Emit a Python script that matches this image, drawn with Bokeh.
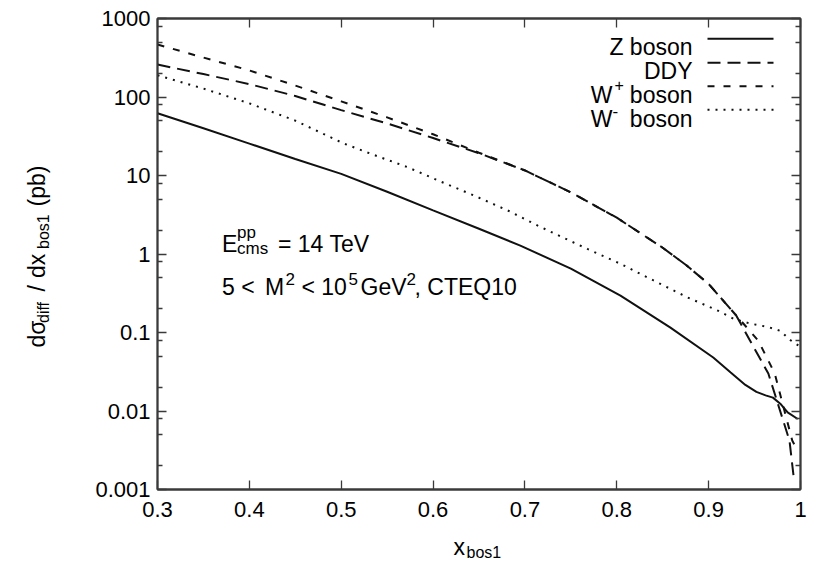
from bokeh.plotting import figure
from bokeh.layouts import row, column
from bokeh.models import (Range1d, FixedTicker, LogAxis, LinearAxis, Label,
                          Arrow, PrintfTickFormatter)
from bokeh.embed import file_html
from bokeh.resources import INLINE

# ---------------- data ----------------
x_ticks = [0.3, 0.4, 0.5, 0.6, 0.7, 0.8, 0.9, 1]
y_ticks = [0.001, 0.01, 0.1, 1, 10, 100, 1000]
y_minor = [0.002, 0.005, 0.008, 0.02, 0.05, 0.08, 0.2, 0.5, 0.8,
           2, 5, 8, 20, 50, 80, 200, 500, 800]

z_x = [0.30, 0.35, 0.40, 0.45, 0.50, 0.55, 0.60, 0.65, 0.695, 0.75, 0.804,
       0.858, 0.905, 0.924, 0.94, 0.952, 0.962, 0.970, 0.978, 0.986, 0.997]
z_y = [62, 40, 25.5, 16.2, 10.5, 6.2, 3.6, 2.1, 1.28, 0.65, 0.295,
       0.116, 0.048, 0.031, 0.0215, 0.0175, 0.0158, 0.0148, 0.0124, 0.0096, 0.0079]

ddy_x = [0.30, 0.35, 0.40, 0.45, 0.50, 0.55, 0.60, 0.65, 0.70, 0.75, 0.80,
         0.85, 0.875, 0.90, 0.93, 0.945, 0.965, 0.988, 0.993]
ddy_y = [259, 196, 146, 103, 68, 46, 30, 19.2, 11.6, 6.1, 2.9,
         1.2, 0.73, 0.415, 0.165, 0.079, 0.03, 0.0042, 0.0013]

wp_x = [0.30, 0.35, 0.40, 0.45, 0.50, 0.55, 0.60, 0.65, 0.70, 0.75, 0.80,
        0.85, 0.875, 0.90, 0.93, 0.954, 0.972, 0.991, 0.997]
wp_y = [466, 318, 218, 140, 88, 55, 33.5, 19.5, 11.6, 6.1, 2.9,
        1.2, 0.73, 0.415, 0.165, 0.079, 0.03, 0.0042, 0.0031]

wm_x = [0.30, 0.35, 0.40, 0.45, 0.503, 0.535, 0.572, 0.608, 0.644, 0.681, 0.714,
        0.731, 0.768, 0.804, 0.840, 0.877, 0.910, 0.927, 0.945, 0.964, 0.978,
        0.989, 0.998]
wm_y = [189, 128, 83, 50, 25.5, 18.4, 12.8, 8.4, 5.6, 3.6, 2.3,
        1.85, 1.16, 0.75, 0.46, 0.28, 0.19, 0.15, 0.13, 0.118, 0.105,
        0.08, 0.068]

series_names = ["Z boson", "DDY", "W", "W"]

# ---------------- styling constants ----------------
FONT = "Liberation Sans"
INK = "#111111"
AX = "#3a3a3a"

# page layout: left strip (y title) | main plot over bottom strip (x title)
LEFT_W = 80
MAIN_W, MAIN_H = 728, 534
BOT_H = 27
TOTAL_H = MAIN_H + BOT_H
FL, FB = 157, 489          # frame left / bottom, page pixels

p = figure(width=MAIN_W, height=MAIN_H, output_backend="svg",
           toolbar_location=None,
           x_range=Range1d(0.3, 1.0), y_range=Range1d(0.001, 1000),
           y_axis_type="log",
           min_border_left=FL - LEFT_W, min_border_right=8,
           min_border_top=18, min_border_bottom=MAIN_H - FB)
p.grid.visible = False
p.background_fill_color = "white"
p.border_fill_color = "white"
p.outline_line_color = AX
p.outline_line_width = 1.8


def style_axis(ax, show_labels=True):
    ax.axis_line_color = AX
    ax.axis_line_width = 1.8
    ax.major_tick_line_color = AX
    ax.minor_tick_line_color = AX
    ax.major_tick_line_width = 1.3
    ax.minor_tick_line_width = 1.3
    ax.major_tick_in = 9
    ax.major_tick_out = 0
    ax.minor_tick_in = 5
    ax.minor_tick_out = 0
    ax.formatter = PrintfTickFormatter(format="%g")
    if show_labels:
        ax.major_label_text_font = FONT
        ax.major_label_text_font_size = "22px"
        ax.major_label_text_color = "#000000"
    else:
        ax.major_label_text_font_size = "1px"
        ax.major_label_text_color = None
        ax.major_label_standoff = 0


p.xaxis.ticker = FixedTicker(ticks=x_ticks, minor_ticks=[])
p.yaxis.ticker = FixedTicker(ticks=y_ticks, minor_ticks=y_minor)
style_axis(p.xaxis[0])
style_axis(p.yaxis[0])
p.xaxis.major_label_standoff = 12
p.yaxis.major_label_standoff = 7

top = LinearAxis(ticker=FixedTicker(ticks=x_ticks, minor_ticks=[]))
style_axis(top, False)
p.add_layout(top, "above")
right = LogAxis(ticker=FixedTicker(ticks=y_ticks, minor_ticks=y_minor))
style_axis(right, False)
p.add_layout(right, "right")

# ---------------- curves ----------------
p.line(z_x, z_y, line_color=INK, line_width=2)
p.line(ddy_x, ddy_y, line_color=INK, line_width=2, line_dash="13 7")
p.line(wp_x, wp_y, line_color=INK, line_width=2, line_dash="7 9")
p.line(wm_x, wm_y, line_color=INK, line_width=2, line_dash="2 6")


# ---------------- text helpers (page px -> frame screen units) ----------------
def lab(fig, ox, oy, text, px, py, size, align="left", angle=0):
    fig.add_layout(Label(x=px - ox, y=oy - py, x_units="screen", y_units="screen",
                         text=text, text_font=FONT, text_font_size=f"{size}px",
                         text_color="#000000", text_align=align,
                         text_baseline="alphabetic", angle=angle,
                         angle_units="deg"))


def mlab(text, px, py, size, align="left"):
    lab(p, FL, FB, text, px, py, size, align)


def seg(px0, px1, py, dash):
    p.add_layout(Arrow(start=None, end=None,
                       x_start=px0 - FL, y_start=FB - py,
                       x_end=px1 - FL, y_end=FB - py,
                       start_units="screen", end_units="screen",
                       line_color=INK, line_width=2, line_dash=dash))


# legend (text on the left, line sample on the right)
mlab(series_names[0], 692, 46.7, 23, "right")
seg(707, 773, 38.3, "solid")
mlab(series_names[1], 692, 70.5, 23, "right")
seg(707, 773, 62.3, "13 7")
mlab("boson", 692, 94.3, 23, "right")
mlab("+", 614, 84.5, 16)
mlab(series_names[2], 612, 94.3, 23, "right")
seg(707, 773, 85.7, "7 9")
mlab("boson", 692, 118.1, 23, "right")
mlab("-", 612, 110.5, 17)
mlab(series_names[3], 612, 118.1, 23, "right")
seg(707, 773, 109.3, "2 6")

# annotation
mlab("E", 221.5, 243.5, 23)
mlab("pp", 236.5, 231.5, 17)
mlab("cms", 236.5, 248.3, 17)
mlab("= 14 TeV", 277.5, 243.5, 23)
mlab("5 <", 221.5, 286.7, 23)
mlab("M", 264.5, 286.7, 23)
mlab("2", 285, 278, 17)
mlab("< 10", 301, 286.7, 23)
mlab("5", 348, 278, 17)
mlab("GeV", 360, 286.7, 23)
mlab("2", 406, 278, 17)
mlab(", CTEQ10", 414, 286.7, 23)


def strip(w, h):
    f = figure(width=w, height=h, output_backend="svg", toolbar_location=None,
               x_range=Range1d(0, 1), y_range=Range1d(0, 1),
               x_axis_location=None, y_axis_location=None,
               min_border=0)
    f.grid.visible = False
    f.outline_line_color = None
    f.background_fill_color = "white"
    f.border_fill_color = "white"
    return f


# y-axis title (rotated), left strip at page x 0
left = strip(LEFT_W, TOTAL_H)
lab(left, 0, TOTAL_H, "d\u03c3", 36.7, 347, 23, angle=90)
lab(left, 0, TOTAL_H, "diff", 43, 322.5, 16, angle=90)
lab(left, 0, TOTAL_H, "/", 36.7, 291, 23, angle=90)
lab(left, 0, TOTAL_H, "dx", 36.7, 277.5, 23, angle=90)
lab(left, 0, TOTAL_H, "bos1", 43, 248.5, 16, angle=90)
lab(left, 0, TOTAL_H, "(pb)", 36.7, 206, 23, angle=90)

# x-axis title, bottom strip (its frame is aligned with the main frame)
bottom = strip(MAIN_W, BOT_H)
lab(bottom, FL, TOTAL_H, "x", 453, 546, 23)
lab(bottom, FL, TOTAL_H, "bos1", 466, 551.5, 16)

layout = row(left, column(p, bottom, spacing=0), spacing=0)

open("out.html", "w").write(file_html(layout, INLINE))
